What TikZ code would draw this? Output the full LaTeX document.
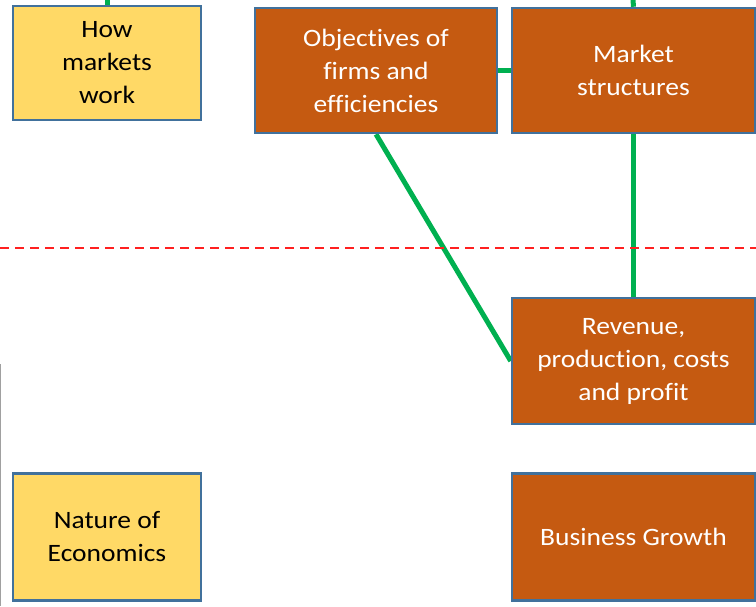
\documentclass[tikz,border=0pt]{standalone}
\usepackage{fontspec}
\usetikzlibrary{backgrounds}
\setmainfont{Carlito}[FakeStretch=1.1,Ligatures={NoCommon}]
\definecolor{orangebox}{HTML}{C55A11}
\definecolor{yellowbox}{HTML}{FFD966}
\definecolor{boxborder}{HTML}{41719C}
\definecolor{linkgreen}{HTML}{00B050}
\definecolor{dashred}{HTML}{FF2020}
\definecolor{edgegrey}{HTML}{A0A0A0}
\begin{document}
\begin{tikzpicture}[x=1pt,y=-1pt,
  box/.style={draw=boxborder,line width=2.5pt,align=center,inner sep=0pt,
    font=\fontsize{25}{33}\selectfont},
  orangebx/.style={box,fill=orangebox,text=white},
  yellowbx/.style={box,fill=yellowbox,text=black},
  link/.style={draw=linkgreen,line width=5pt},
  divider/.style={draw=dashred,line width=1.8pt,dash pattern=on 9pt off 6pt}]
\useasboundingbox (0,0) rectangle (756,606);
\coordinate (topA) at (107,0);
\coordinate (topB) at (633,0);
\node[yellowbx,minimum width=188pt,minimum height=114pt] (how) at (107,63) {How\\markets\\work};
\node[orangebx,minimum width=242pt,minimum height=125pt] (obj) at (376,70.5) {Objectives of\\firms and\\efficiencies};
\node[orangebx,minimum width=243pt,minimum height=125pt] (mkt) at (633.5,70.5) {Market\\structures};
\node[orangebx,minimum width=243pt,minimum height=126pt] (rev) at (633.5,361) {Revenue,\\production, costs\\and profit};
\node[yellowbx,minimum width=188pt,minimum height=127pt] (nat) at (107,537) {Nature of\\Economics};
\node[orangebx,minimum width=243pt,minimum height=127pt] (bus) at (633.5,537) {Business Growth};
\begin{scope}[on background layer]
\path[link] (topA) -- (how.north);
\path[link] (topB) -- (mkt.north);
\path[link] (obj.east) -- (mkt.west);
\path[link] (mkt.south) -- (rev.north);
\path[link] (obj.south) -- (rev.west);
\end{scope}
\coordinate (dl) at (0,248);
\coordinate (dr) at (756,248);
\path[divider] (dl) -- (dr);
\coordinate (gt) at (0.6,364);
\coordinate (gb) at (0.6,606);
\draw[edgegrey,line width=1.2pt] (gt) -- (gb);
\end{tikzpicture}
\end{document}
